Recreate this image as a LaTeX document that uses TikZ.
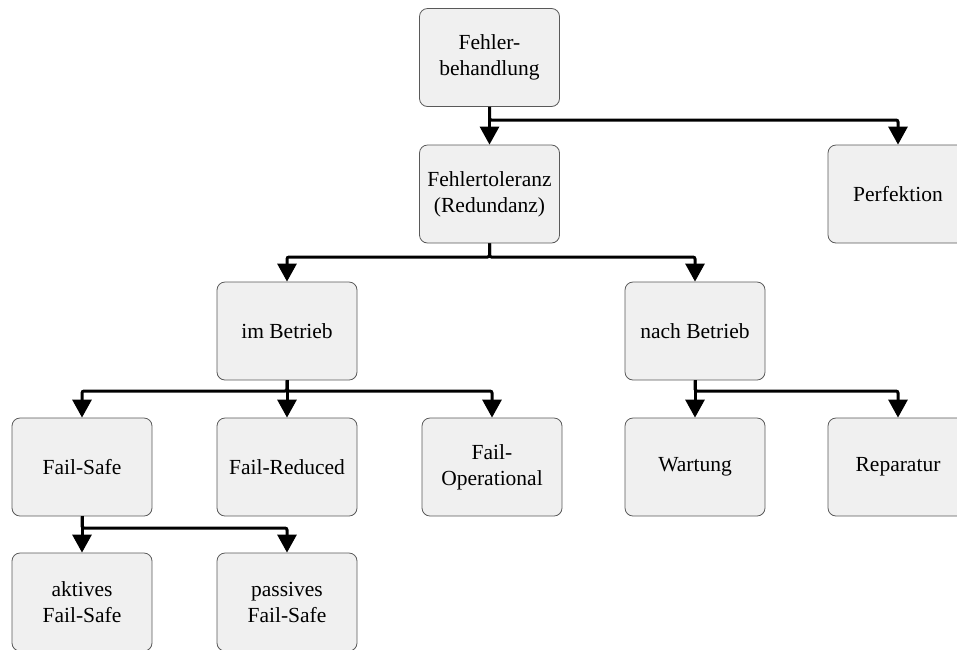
\documentclass[tikz,border=0pt]{standalone}
\usepackage{fontspec}
\setmainfont{Liberation Serif}
\usetikzlibrary{arrows.meta}
\begin{document}
\begin{tikzpicture}[x=1pt,y=-1pt,
  box/.style={draw=black!65, line width=0.8pt, fill=black!6, rounded corners=8pt,
    minimum width=140pt, minimum height=98pt, align=center,
    font=\fontsize{21.5}{26}\selectfont, inner sep=2pt},
  link/.style={line width=3pt, rounded corners=2pt,
    -{Triangle[length=18pt,width=19pt]}}]
\clip (0,0) rectangle (957,649);

% tree nodes
\node[box] (feh)  at (489.5,57.5) {Fehler-\\behandlung};
\node[box] (tol)  at (489.5,194)  {Fehlertoleranz\\(Redundanz)};
\node[box] (perf) at (898,194)    {Perfektion};
\node[box] (im)   at (287,331)    {im Betrieb};
\node[box] (nach) at (695,331)    {nach Betrieb};
\node[box] (fs)   at (82,467)     {Fail-Safe};
\node[box] (fr)   at (287,467)    {Fail-Reduced};
\node[box] (fo)   at (492,467)    {Fail-\\Operational};
\node[box] (wart) at (695,467)    {Wartung};
\node[box] (rep)  at (898,467)    {Reparatur};
\node[box] (akt)  at (82,602)     {aktives\\Fail-Safe};
\node[box] (pas)  at (287,602)    {passives\\Fail-Safe};

% branch points below each parent
\coordinate (b1) at (489.5,120);
\coordinate (b2) at (489.5,257);
\coordinate (b3) at (287,391);
\coordinate (b4) at (695,391);
\coordinate (b5) at (82,528);

% connectors
\draw[link] (feh.south) -- (tol.north);
\draw[link] (feh.south) -- (b1) -| (perf.north);
\draw[link] (tol.south) -- (b2) -| (im.north);
\draw[link] (tol.south) -- (b2) -| (nach.north);
\draw[link] (im.south) -- (b3) -| (fs.north);
\draw[link] (im.south) -- (fr.north);
\draw[link] (im.south) -- (b3) -| (fo.north);
\draw[link] (nach.south) -- (wart.north);
\draw[link] (nach.south) -- (b4) -| (rep.north);
\draw[link] (fs.south) -- (akt.north);
\draw[link] (fs.south) -- (b5) -| (pas.north);
\end{tikzpicture}
\end{document}
